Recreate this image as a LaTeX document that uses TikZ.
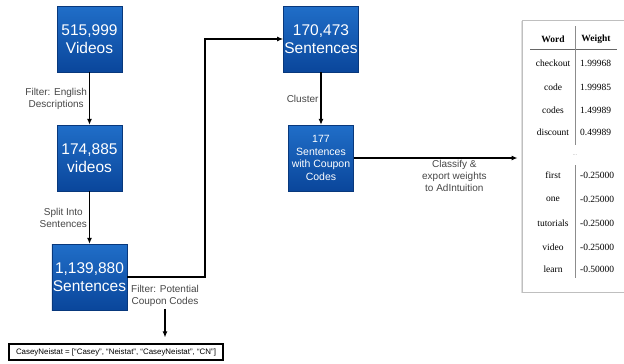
\documentclass[tikz,border=0pt]{standalone}
\usepackage{fontspec}
\setmainfont{Liberation Sans}
\newfontfamily\tabfont{Liberation Serif}
\usetikzlibrary{arrows.meta,shadows}

\definecolor{boxtop}{RGB}{32,110,200}
\definecolor{boxbot}{RGB}{10,70,155}
\definecolor{lbl}{RGB}{70,70,70}

\begin{document}
\begin{tikzpicture}[x=1pt, y=-1pt,
		b/.style = {rectangle, top color=boxtop, bottom color=boxbot, draw=boxbot!80!black, thin, text=white, align=center,
			minimum width=65, minimum height=66, inner sep=1pt,
			drop shadow={opacity=0.3, shadow xshift=0.8pt, shadow yshift=-0.8pt},
			font=\fontsize{15.5}{18.5}\selectfont},
		bs/.style = {b, font=\fontsize{10.5}{12.7}\selectfont},
		l/.style = {text=lbl, align=center, inner sep=2pt, font=\fontsize{10}{12}\selectfont},
		r/.style = {-{Latex[length=6pt, width=5pt]}, line width=1.1pt},
		panel/.style = {rectangle, fill=white, draw=black!25, line width=1pt, minimum width=108, minimum height=272,
			drop shadow={opacity=0.25, shadow xshift=-1pt, shadow yshift=-1pt}},
		w/.style = {inner sep=0pt, font=\tabfont\fontsize{9.5}{11}\selectfont},
		wh/.style = {w, font=\tabfont\bfseries\fontsize{9.5}{11}\selectfont},
		v/.style = {w, anchor=west},
		tl/.style = {draw=black!45, line width=0.6pt}
		]
		
		\useasboundingbox (0,0) rectangle (624,364);
		\clip (0,0) rectangle (624,364);
		
		% === === Nodes === ===
		\node[b]	(b1)	at	(89.5, 39)	{515,999\\Videos};
		\node[b]	(b2)	at	(89.5, 158)	{174,885\\videos};
		\node[b]	(b3)	at	(89.5, 277)	{1,139,880\\Sentences};
		\node[b]	(b4)	at	(321, 39)	{170,473\\Sentences};
		\node[bs]	(b5)	at	(321, 158)	{177\\Sentences\\with Coupon\\Codes};
		
		\coordinate	(turn)	at	(205, 160);
		\node[l]	(fpc)	at	(165, 296)	{Filter: Potential\\Coupon Codes};
		\node[draw, line width=1.2pt, minimum width=214, minimum height=16, inner sep=1pt,
			font=\fontsize{7.9}{9}\selectfont]	(casey)	at	(116, 352)
			{CaseyNeistat = [“Casey”, “Neistat”, “CaseyNeistat”, “CN”]};
		
		% table
		\node[panel]	(tab)	at	(576, 156)	{};
		\node[wh]	(hw)	at	(553, 39)	{Word};
		\node[wh]	(hv)	at	(596, 39)	{Weight};
		\draw[tl, draw=black!60]	(530, 49) -- (617, 49);
		\draw[tl]	(575, 26) -- (575, 145);
		\draw[tl]	(575, 165) -- (575, 278);
		\node[text=black!35, font=\fontsize{6}{7}\selectfont]	(dots)	at	(575, 155)	{...};
		
		\node[w]	(w1)	at	(553, 63)	{checkout};
		\node[w]	(w2)	at	(553, 87)	{code};
		\node[w]	(w3)	at	(553, 110)	{codes};
		\node[w]	(w4)	at	(553, 132)	{discount};
		\node[w]	(w5)	at	(553, 175)	{first};
		\node[w]	(w6)	at	(553, 199)	{one};
		\node[w]	(w7)	at	(553, 223)	{tutorials};
		\node[w]	(w8)	at	(553, 247)	{video};
		\node[w]	(w9)	at	(553, 269)	{learn};
		
		\node[v]	(v1)	at	(580, 63)	{1.99968};
		\node[v]	(v2)	at	(580, 87)	{1.99985};
		\node[v]	(v3)	at	(580, 110)	{1.49989};
		\node[v]	(v4)	at	(580, 132)	{0.49989};
		\node[v]	(v5)	at	(580, 175)	{-0.25000};
		\node[v]	(v6)	at	(580, 199)	{-0.25000};
		\node[v]	(v7)	at	(580, 223)	{-0.25000};
		\node[v]	(v8)	at	(580, 247)	{-0.25000};
		\node[v]	(v9)	at	(580, 269)	{-0.50000};
		
		% === === Lines === ===
		\draw[r]	(b1)	--	node[l, left]	{Filter: English\\Descriptions}	(b2);
		\draw[r]	(b2)	--	node[l, left]	{Split Into\\Sentences}	(b3);
		\draw[r]	(b4)	--	node[l, left]	{Cluster}	(b5);
		\draw[r]	(b3.east)	-|	(turn)	|-	(b4.west);
		\draw[r, shorten >=6pt]	(fpc.south)	--	(fpc.south |- casey.north);
		\draw[r, shorten >=4pt]	(b5.east)	--	node[l, below, pos=0.6]	{Classify \&\\export weights\\to AdIntuition}	(b5.east -| tab.west);
		
	\end{tikzpicture}
\end{document}
